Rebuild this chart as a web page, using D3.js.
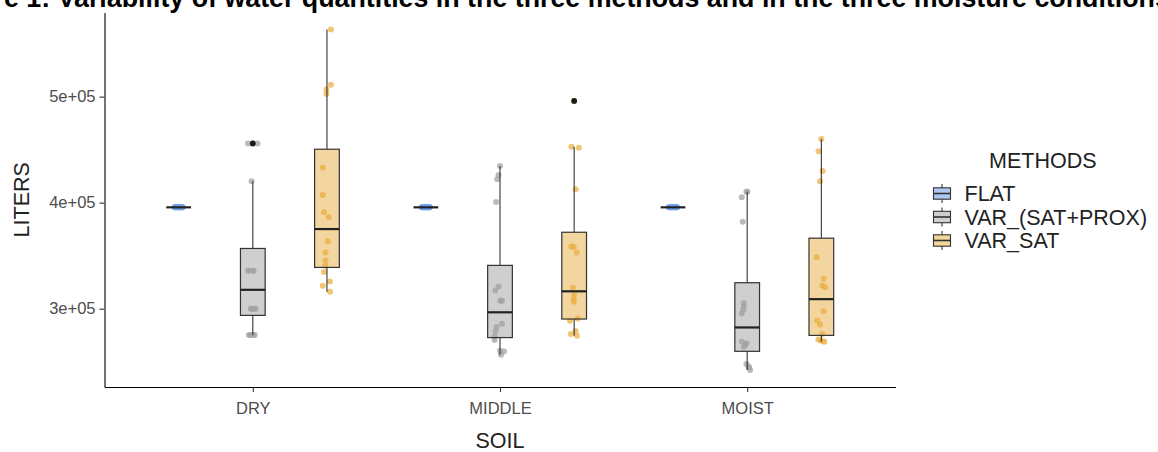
<!DOCTYPE html>
<html><head><meta charset="utf-8">
<script src="https://cdn.jsdelivr.net/npm/d3@7"></script>
<style>
body{margin:0;background:#fff;}
svg{display:block;font-family:"Liberation Sans",Arial,Helvetica,sans-serif;}
</style>
</head><body>
<svg id="chart" width="1158" height="452"></svg>
<script>
// ---------- DATA ----------
const titleText = "Figure 1: Variability of water quantities in the three methods and in the three moisture conditions";
const soils = ["DRY", "MIDDLE", "MOIST"];
const methods = ["FLAT", "VAR_(SAT+PROX)", "VAR_SAT"];
const yTicks = [300000, 400000, 500000];
const yTickLabels = ["3e+05", "4e+05", "5e+05"];

const dryFlat   = [395600,395600,395600,395600,395600,395600,395600,395600,395600,395600,395600,395600,395600,395600,395600,395600];
const dryProx   = [455900,455900,455900,420100,335700,335700,335700,335700,299900,299900,299900,299900,275100,275100,275100,275100];
const drySat    = [563300,511100,506800,502600,433000,407300,391000,386500,363700,352900,345400,340400,334500,325600,321600,315900];
const middleFlat= [395600,395600,395600,395600,395600,395600,395600,395600,395600,395600,395600,395600,395600,395600,395600,395600];
const middleProx= [434600,426100,422000,400700,320900,317100,307400,307400,285800,282700,278500,273500,270500,260400,259700,256600];
const middleSat = [496000,452700,451800,412600,358600,358300,352900,319700,313100,309000,306500,290800,288600,278900,276100,274500];
const moistFlat = [395600,395600,395600,395600,395600,395600,395600,395600,395600,395600,395600,395600,395600,395600,395600,395600];
const moistProx = [410400,410400,405100,382100,305300,302100,299000,295500,269100,267500,266000,263800,247800,245500,244600,242200];
const moistSat  = [460000,448400,429900,420200,348600,328200,321900,320300,297700,288900,285100,276100,271000,270200,269500,268800];

const jitterFlat      = [-0.017,-0.014,-0.011,-0.008,-0.005,-0.002,0.001,0.004,0.007,0.010,0.013,0.016,-0.012,-0.003,0.006,0.015];
const jitterDryProx   = [-0.019,0,0.019,-0.005,-0.019,0.003,-0.016,0,-0.008,0.011,-0.004,0.006,-0.016,0.008,-0.010,0];
const jitterDrySat    = [0.016,0.016,-0.002,-0.002,-0.017,-0.017,-0.012,0.007,0.003,-0.006,-0.006,-0.006,-0.012,0.012,-0.017,0.012];
const jitterMiddleProx= [0,-0.006,-0.011,-0.016,-0.006,-0.019,0.008,0.001,0.008,-0.014,-0.019,-0.022,-0.022,0,0.016,0.004];
const jitterMiddleSat = [0,-0.011,0.019,0.006,-0.011,-0.002,0.010,-0.005,0,-0.001,-0.002,0.014,-0.017,0.006,-0.013,0.011];
const jitterMoistProx = [0.001,-0.003,-0.022,-0.018,-0.014,-0.014,-0.016,-0.022,-0.022,-0.003,-0.008,-0.014,-0.003,0.005,0.008,0.012];
const jitterMoistSat  = [0,-0.011,0.005,-0.005,-0.019,0.009,0.004,0.015,0.009,-0.017,-0.005,0.004,-0.012,-0.005,0.004,0.012];

const groups = [
  {soil:"DRY",    method:"FLAT",           values:dryFlat,    jitter:jitterFlat},
  {soil:"DRY",    method:"VAR_(SAT+PROX)", values:dryProx,    jitter:jitterDryProx},
  {soil:"DRY",    method:"VAR_SAT",        values:drySat,     jitter:jitterDrySat},
  {soil:"MIDDLE", method:"FLAT",           values:middleFlat, jitter:jitterFlat},
  {soil:"MIDDLE", method:"VAR_(SAT+PROX)", values:middleProx, jitter:jitterMiddleProx},
  {soil:"MIDDLE", method:"VAR_SAT",        values:middleSat,  jitter:jitterMiddleSat},
  {soil:"MOIST",  method:"FLAT",           values:moistFlat,  jitter:jitterFlat},
  {soil:"MOIST",  method:"VAR_(SAT+PROX)", values:moistProx,  jitter:jitterMoistProx},
  {soil:"MOIST",  method:"VAR_SAT",        values:moistSat,   jitter:jitterMoistSat}
];

// ---------- STYLE ----------
const boxFill   = {"FLAT":"#5a8fe2", "VAR_(SAT+PROX)":"#a0a0a0", "VAR_SAT":"#e5ab3f"};
const pointFill = {"FLAT":"#6f9fe8", "VAR_(SAT+PROX)":"#a3a3a3", "VAR_SAT":"#ecb245"};

const svg = d3.select("#chart");
const panel = {left:104.5, right:895.5, top:12.5, bottom:387};

const x = d3.scalePoint().domain(soils).range([panel.left, panel.right]).padding(0.6);
const step = x.step();
const dodge = d3.scalePoint().domain(methods).range([-0.3, 0.3]); // step units
const boxW = 0.1 * step;

const allVals = groups.flatMap(g => g.values);
const [vmin, vmax] = d3.extent(allVals);
const pad = (vmax - vmin) * 0.05;
const y = d3.scaleLinear().domain([vmin - pad, vmax + pad]).range([panel.bottom, panel.top]);

const cx = g => x(g.soil) + dodge(g.method) * step;

// title (partly cut off at top, as in reference)
svg.append("text").attr("x", -63).attr("y", 7)
  .attr("font-size", 26.8).attr("font-weight", "bold").attr("fill", "#000")
  .text(titleText);

// jittered points
groups.forEach(g => {
  svg.append("g").selectAll("circle").data(g.values).join("circle")
    .attr("cx", (d, i) => cx(g) + g.jitter[i] * step)
    .attr("cy", d => y(d))
    .attr("r", 3)
    .attr("fill", pointFill[g.method])
    .attr("fill-opacity", 0.75);
});

// boxplots
groups.forEach(g => {
  const s = g.values.slice().sort(d3.ascending);
  const q1 = d3.quantile(s, 0.25), med = d3.quantile(s, 0.5), q3 = d3.quantile(s, 0.75);
  const iqr = q3 - q1;
  const lo = q1 - 1.5 * iqr, hi = q3 + 1.5 * iqr;
  const inside = s.filter(v => v >= lo && v <= hi);
  const wLo = d3.min(inside), wHi = d3.max(inside);
  const outl = Array.from(new Set(s.filter(v => v < lo || v > hi)));
  const c = cx(g);
  const gg = svg.append("g");
  gg.append("line").attr("x1", c).attr("x2", c).attr("y1", y(q3)).attr("y2", y(wHi))
    .attr("stroke", "#333").attr("stroke-width", 1.1);
  gg.append("line").attr("x1", c).attr("x2", c).attr("y1", y(q1)).attr("y2", y(wLo))
    .attr("stroke", "#333").attr("stroke-width", 1.1);
  const h = y(q1) - y(q3);
  if (h > 0.5) {
    gg.append("rect").attr("x", c - boxW / 2).attr("width", boxW)
      .attr("y", y(q3)).attr("height", h)
      .attr("fill", boxFill[g.method]).attr("fill-opacity", 0.5)
      .attr("stroke", "#333").attr("stroke-width", 1.2);
  }
  gg.append("line").attr("x1", c - boxW / 2).attr("x2", c + boxW / 2)
    .attr("y1", y(med)).attr("y2", y(med))
    .attr("stroke", "#222").attr("stroke-width", 2.2);
  gg.selectAll("circle").data(outl).join("circle")
    .attr("cx", c).attr("cy", d => y(d)).attr("r", 2.9).attr("fill", "#1a1a1a");
});

// axes
const yAxis = svg.append("g").attr("transform", `translate(${panel.left},0)`)
  .call(d3.axisLeft(y).tickValues(yTicks).tickFormat((d, i) => yTickLabels[i]).tickSize(5).tickSizeOuter(0).tickPadding(4));
const xAxis = svg.append("g").attr("transform", `translate(0,${panel.bottom})`)
  .call(d3.axisBottom(x).tickSize(5).tickSizeOuter(0).tickPadding(6));
[yAxis, xAxis].forEach(a => {
  a.select(".domain").attr("stroke", "#000").attr("stroke-width", 1.1);
  a.selectAll(".tick line").attr("stroke", "#333").attr("stroke-width", 1.1);
  a.selectAll(".tick text").attr("fill", "#4d4d4d").attr("font-size", 16.5)
    .attr("font-family", "Liberation Sans, Arial, sans-serif");
});
xAxis.selectAll(".tick text").attr("dy", "0.95em");

// axis titles
svg.append("text").attr("x", (panel.left + panel.right) / 2).attr("y", 448)
  .attr("text-anchor", "middle").attr("font-size", 21.5).attr("fill", "#222").text("SOIL");
svg.append("text").attr("transform", `translate(29,${(panel.top + panel.bottom) / 2}) rotate(-90)`)
  .attr("text-anchor", "middle").attr("font-size", 21.5).attr("fill", "#222").text("LITERS");

// legend
const leg = svg.append("g");
leg.append("text").attr("x", 989).attr("y", 168).attr("font-size", 21.5).attr("fill", "#222").text("METHODS");
const keyY = d3.scalePoint().domain(methods).range([193.5, 240.5]);
methods.forEach(m => {
  const cy = keyY(m), kx = 942, kw = 17;
  leg.append("line").attr("x1", kx).attr("x2", kx).attr("y1", cy - 9.5).attr("y2", cy + 9.5)
    .attr("stroke", "#333").attr("stroke-width", 1.1);
  leg.append("rect").attr("x", kx - kw / 2).attr("y", cy - 5.7).attr("width", kw).attr("height", 11.4)
    .attr("fill", "#fff");
  leg.append("rect").attr("x", kx - kw / 2).attr("y", cy - 5.7).attr("width", kw).attr("height", 11.4)
    .attr("fill", boxFill[m]).attr("fill-opacity", 0.5).attr("stroke", "#333").attr("stroke-width", 1.1);
  leg.append("line").attr("x1", kx - kw / 2).attr("x2", kx + kw / 2).attr("y1", cy).attr("y2", cy)
    .attr("stroke", "#333").attr("stroke-width", 1.6);
  leg.append("text").attr("x", 964.5).attr("y", cy + 7.7).attr("font-size", 21.5).attr("fill", "#222").text(m);
});
</script>
</body></html>
